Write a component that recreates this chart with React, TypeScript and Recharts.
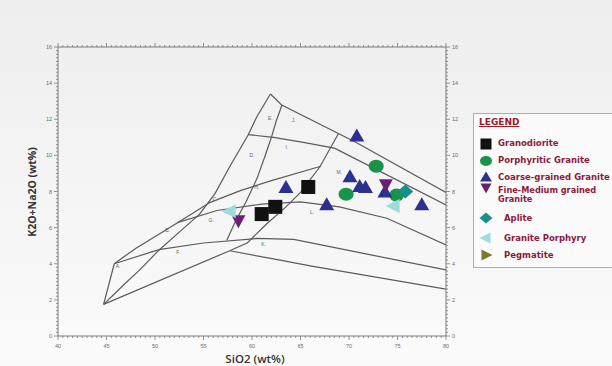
import React from 'react';
import { ComposedChart, Line, Scatter, XAxis, YAxis } from 'recharts';

// axis ticks
const steps = (from: number, to: number, step: number) => {
  const out: number[] = [];
  for (let v = from; v <= to + 1e-9; v += step) out.push(Math.round(v * 100) / 100);
  return out;
};
const xTicks = steps(40, 80, 0.5);
const yTicks = steps(0, 16, 0.2);

// field boundaries (SiO2, K2O+Na2O)
const edgeA = [{ x: 44.7, y: 1.75 }, { x: 45.8, y: 4.0 }];
const lineAB = [
  { x: 45.8, y: 4.0 }, { x: 48, y: 4.85 }, { x: 51.2, y: 5.9 }, { x: 53.6, y: 6.7 },
  { x: 55.7, y: 7.4 }, { x: 58.8, y: 8.05 }, { x: 62, y: 8.6 }, { x: 67.1, y: 9.4 },
];
const lineF = [
  { x: 45.8, y: 4.0 }, { x: 50.4, y: 4.78 }, { x: 55, y: 5.15 }, { x: 60.5, y: 5.4 },
  { x: 64.3, y: 5.35 }, { x: 72, y: 4.52 }, { x: 80, y: 3.66 },
];
const outerCurve = [
  { x: 44.7, y: 1.75 }, { x: 47, y: 2.95 }, { x: 48.4, y: 3.65 }, { x: 50.4, y: 4.75 },
  { x: 52.5, y: 5.75 }, { x: 54.6, y: 6.75 }, { x: 56.2, y: 7.9 }, { x: 57.7, y: 9.37 },
  { x: 59.6, y: 11.13 }, { x: 60.5, y: 12.14 }, { x: 61.9, y: 13.4 },
];
const lowerEdge = [{ x: 44.7, y: 1.75 }, { x: 57.7, y: 4.72 }];
const lineK = [{ x: 57.7, y: 4.72 }, { x: 62.9, y: 4.2 }, { x: 66, y: 3.88 }, { x: 80, y: 2.6 }];
const steepLine = [
  { x: 57.7, y: 4.72 }, { x: 59.5, y: 5.15 }, { x: 61.5, y: 6.2 }, { x: 63.5, y: 7.15 },
  { x: 65, y: 7.95 }, { x: 67, y: 9.37 }, { x: 68.9, y: 11.2 },
];
const lineG = [
  { x: 52.3, y: 6.28 }, { x: 56.4, y: 6.95 }, { x: 61, y: 7.3 }, { x: 65, y: 7.43 },
  { x: 69, y: 7.15 }, { x: 73.9, y: 6.52 }, { x: 80, y: 5.04 },
];
const curveEJ = [
  { x: 63.1, y: 12.8 }, { x: 62.5, y: 11.9 }, { x: 62.0, y: 11.0 }, { x: 61.3, y: 9.9 },
  { x: 60.5, y: 8.7 }, { x: 59.4, y: 7.45 }, { x: 58.3, y: 6.35 }, { x: 57.4, y: 5.3 },
];
const lineI = [
  { x: 59.6, y: 11.15 }, { x: 62.2, y: 11.0 }, { x: 65, y: 10.75 }, { x: 68.5, y: 10.4 }, { x: 80, y: 7.25 },
];
const topLine = [{ x: 61.9, y: 13.4 }, { x: 63.06, y: 12.79 }, { x: 70.6, y: 10.75 }, { x: 80, y: 7.95 }];

const boundaries = [edgeA, lineAB, lineF, outerCurve, lowerEdge, lineK, steepLine, lineG, curveEJ, lineI, topLine];

const fieldLetters = [
  { x: 46.2, y: 3.75, t: 'A.' }, { x: 51.3, y: 5.75, t: 'B.' }, { x: 56.2, y: 7.45, t: 'C.' },
  { x: 60.0, y: 9.9, t: 'D.' }, { x: 61.9, y: 11.95, t: 'E.' }, { x: 52.4, y: 4.55, t: 'F.' },
  { x: 55.8, y: 6.3, t: 'G.' }, { x: 60.5, y: 8.15, t: 'H.' }, { x: 63.6, y: 10.35, t: 'I.' },
  { x: 64.3, y: 11.85, t: 'J.' }, { x: 61.2, y: 5.0, t: 'K.' }, { x: 66.2, y: 6.75, t: 'L.' },
  { x: 69.0, y: 8.95, t: 'M.' },
];

// samples
const granodiorite = [{ x: 61.0, y: 6.75 }, { x: 62.4, y: 7.15 }, { x: 65.8, y: 8.25 }];
const porphyriticGranite = [{ x: 69.7, y: 7.85 }, { x: 72.8, y: 9.4 }, { x: 74.9, y: 7.8 }];
const coarseGranite = [
  { x: 63.5, y: 8.25 }, { x: 67.7, y: 7.3 }, { x: 70.1, y: 8.85 }, { x: 70.8, y: 11.1 },
  { x: 71.1, y: 8.3 }, { x: 71.7, y: 8.25 }, { x: 73.7, y: 8.0 }, { x: 77.5, y: 7.3 },
];
const fineMediumGranite = [{ x: 58.6, y: 6.35 }, { x: 73.8, y: 8.35 }];
const aplite = [{ x: 75.8, y: 8.0 }];
const granitePorphyry = [{ x: 57.7, y: 6.9 }, { x: 74.6, y: 7.2 }];
const pegmatite: { x: number; y: number }[] = [];

type Kind = 'square' | 'circle' | 'up' | 'down' | 'diamond' | 'left' | 'right';

function symbol(kind: Kind, color: string, cx: number, cy: number, s: number) {
  const h = s / 2;
  switch (kind) {
    case 'square':
      return <rect x={cx - h} y={cy - h} width={s} height={s} fill={color} />;
    case 'circle':
      return <ellipse cx={cx} cy={cy} rx={h + 0.5} ry={h - 0.5} fill={color} />;
    case 'up':
      return <polygon points={`${cx},${cy - h} ${cx + h + 0.5},${cy + h - 1} ${cx - h - 0.5},${cy + h - 1}`} fill={color} />;
    case 'down':
      return <polygon points={`${cx - h},${cy - h + 1} ${cx + h},${cy - h + 1} ${cx},${cy + h}`} fill={color} />;
    case 'diamond':
      return <polygon points={`${cx},${cy - h} ${cx + h + 1},${cy} ${cx},${cy + h} ${cx - h - 1},${cy}`} fill={color} />;
    case 'left':
      return <polygon points={`${cx - h - 1},${cy} ${cx + h - 1},${cy - h} ${cx + h - 1},${cy + h}`} fill={color} />;
    default:
      return <polygon points={`${cx + h + 1},${cy} ${cx - h + 1},${cy - h} ${cx - h + 1},${cy + h}`} fill={color} />;
  }
}

const series = [
  { name: 'Granodiorite', data: granodiorite, kind: 'square' as Kind, color: '#111111' },
  { name: 'Porphyritic Granite', data: porphyriticGranite, kind: 'circle' as Kind, color: '#17934a' },
  { name: 'Coarse-grained Granite', data: coarseGranite, kind: 'up' as Kind, color: '#2c308f' },
  { name: 'Fine-Medium grained Granite', data: fineMediumGranite, kind: 'down' as Kind, color: '#6d1f78' },
  { name: 'Aplite', data: aplite, kind: 'diamond' as Kind, color: '#17908c' },
  { name: 'Granite Porphyry', data: granitePorphyry, kind: 'left' as Kind, color: '#9fdadd' },
  { name: 'Pegmatite', data: pegmatite, kind: 'right' as Kind, color: '#7b7a2e' },
];

const axisColor = '#7a7a7a';
const tickFont = { fontSize: 5.5, fill: '#6a6a6a', fontFamily: 'Arial, sans-serif' };
const isMajor = (v: number, m: number) => Math.abs(v / m - Math.round(v / m)) < 1e-6;

const BottomTick = (p: any) => {
  const v = p.payload.value;
  const major = isMajor(v, 5);
  return (
    <g>
      <line x1={p.x} x2={p.x} y1={p.y} y2={p.y + (major ? 4 : 2)} stroke={axisColor} strokeWidth={0.8} />
      {major && <text x={p.x} y={p.y + 12} textAnchor="middle" {...tickFont}>{v}</text>}
    </g>
  );
};
const TopTick = (p: any) => {
  const v = p.payload.value;
  const major = isMajor(v, 5);
  return <line x1={p.x} x2={p.x} y1={p.y} y2={p.y - (major ? 4 : 2)} stroke={axisColor} strokeWidth={0.8} />;
};
const LeftTick = (p: any) => {
  const v = p.payload.value;
  const major = isMajor(v, 2);
  return (
    <g>
      <line x1={p.x} x2={p.x - (major ? 4 : 2)} y1={p.y} y2={p.y} stroke={axisColor} strokeWidth={0.8} />
      {major && <text x={p.x - 6} y={p.y + 2} textAnchor="end" {...tickFont}>{v}</text>}
    </g>
  );
};
const RightTick = (p: any) => {
  const v = p.payload.value;
  const major = isMajor(v, 2);
  return (
    <g>
      <line x1={p.x} x2={p.x + (major ? 4 : 2)} y1={p.y} y2={p.y} stroke={axisColor} strokeWidth={0.8} />
      {major && <text x={p.x + 6} y={p.y + 2} textAnchor="start" {...tickFont}>{v}</text>}
    </g>
  );
};

const legendRows = [29.5, 46.5, 63, 77, 104, 124, 141];

function LegendBox() {
  const textColor = '#8b1a3c';
  const font = '"DejaVu Sans", sans-serif';
  return (
    <div
      style={{
        position: 'absolute', left: 473, top: 113, width: 150, height: 155,
        border: '1px solid #c7a3a8', background: '#fbfbfb', boxSizing: 'border-box',
        fontFamily: font, fontWeight: 700, color: textColor,
      }}
    >
      <div style={{ position: 'absolute', left: 5, top: 3, fontSize: 9, lineHeight: '10px', textDecoration: 'underline', color: '#9a1c2c' }}>
        LEGEND
      </div>
      {series.map((s, i) => {
        const top = legendRows[i];
        const two = s.name === 'Fine-Medium grained Granite';
        const left = i >= 4 ? 30 : 24;
        return (
          <React.Fragment key={s.name}>
            <svg style={{ position: 'absolute', left: 5, top: top - 7 - (two ? 3 : 0) }} width={14} height={14}>
              {symbol(s.kind, s.color, 7, 7, 11)}
            </svg>
            {two ? (
              <>
                <div style={{ position: 'absolute', left, top: top - 5, fontSize: 8.2, lineHeight: '8px', whiteSpace: 'nowrap' }}>
                  Fine-Medium grained
                </div>
                <div style={{ position: 'absolute', left, top: top + 4, fontSize: 8.2, lineHeight: '8px', whiteSpace: 'nowrap' }}>
                  Granite
                </div>
              </>
            ) : (
              <div style={{ position: 'absolute', left, top: top - 4.5, fontSize: 8.5, lineHeight: '9px', whiteSpace: 'nowrap' }}>
                {s.name}
              </div>
            )}
          </React.Fragment>
        );
      })}
    </div>
  );
}

export default function App() {
  return (
    <div
      style={{
        position: 'absolute', left: 0, top: 0, width: 612, height: 366, overflow: 'hidden',
        background: 'linear-gradient(#eeeeee, #fbfbfb)',
      }}
    >
      <ComposedChart width={612} height={366} margin={{ top: 37, right: 136, bottom: 0, left: 0 }}>
        <XAxis xAxisId="b" dataKey="x" type="number" domain={[40, 80]} allowDataOverflow ticks={xTicks} interval={0}
          tick={BottomTick} tickLine={false} tickSize={0} tickMargin={0} height={30} axisLine={{ stroke: axisColor }} />
        <XAxis xAxisId="t" orientation="top" dataKey="x" type="number" domain={[40, 80]} allowDataOverflow ticks={xTicks}
          interval={0} tick={TopTick} tickLine={false} tickSize={0} tickMargin={0} height={10} axisLine={{ stroke: axisColor }} />
        <YAxis yAxisId="l" dataKey="y" type="number" domain={[0, 16]} allowDataOverflow ticks={yTicks} interval={0}
          tick={LeftTick} tickLine={false} tickSize={0} tickMargin={0} width={58} axisLine={{ stroke: axisColor }} />
        <YAxis yAxisId="r" orientation="right" dataKey="y" type="number" domain={[0, 16]} allowDataOverflow ticks={yTicks}
          interval={0} tick={RightTick} tickLine={false} tickSize={0} tickMargin={0} width={30} axisLine={{ stroke: axisColor }} />
        {boundaries.map((b, i) => (
          <Line key={'b' + i} xAxisId="b" yAxisId="l" data={b} dataKey="y" type="linear" stroke="#5b5b5b"
            strokeWidth={1.2} dot={false} activeDot={false} isAnimationActive={false} legendType="none" />
        ))}
        <Scatter xAxisId="b" yAxisId="l" data={fieldLetters} isAnimationActive={false} legendType="none"
          shape={(p: any) => (
            <text x={p.cx} y={p.cy} fontSize={5} fill="#666" fontFamily="Arial, sans-serif" textAnchor="middle">
              {p.payload.t}
            </text>
          )} />
        {series.map((s) => (
          <Scatter key={s.name} name={s.name} xAxisId="b" yAxisId="l" data={s.data} isAnimationActive={false}
            shape={(p: any) => symbol(s.kind, s.color, p.cx, p.cy, 14)} />
        ))}
      </ComposedChart>
      <div
        style={{
          position: 'absolute', left: 32, top: 192, transform: 'translate(-50%, -50%) rotate(-90deg)',
          whiteSpace: 'nowrap', fontFamily: '"Open Sans", sans-serif', fontWeight: 700, fontSize: 10.5, color: '#333',
        }}
      >
        K2O+Na2O (wt%)
      </div>
      <div
        style={{
          position: 'absolute', left: 255, top: 358, transform: 'translate(-50%, -50%)', whiteSpace: 'nowrap',
          fontFamily: '"Open Sans", sans-serif', fontWeight: 600, fontSize: 11.5, color: '#333',
        }}
      >
        SiO2 (wt%)
      </div>
      <LegendBox />
    </div>
  );
}
